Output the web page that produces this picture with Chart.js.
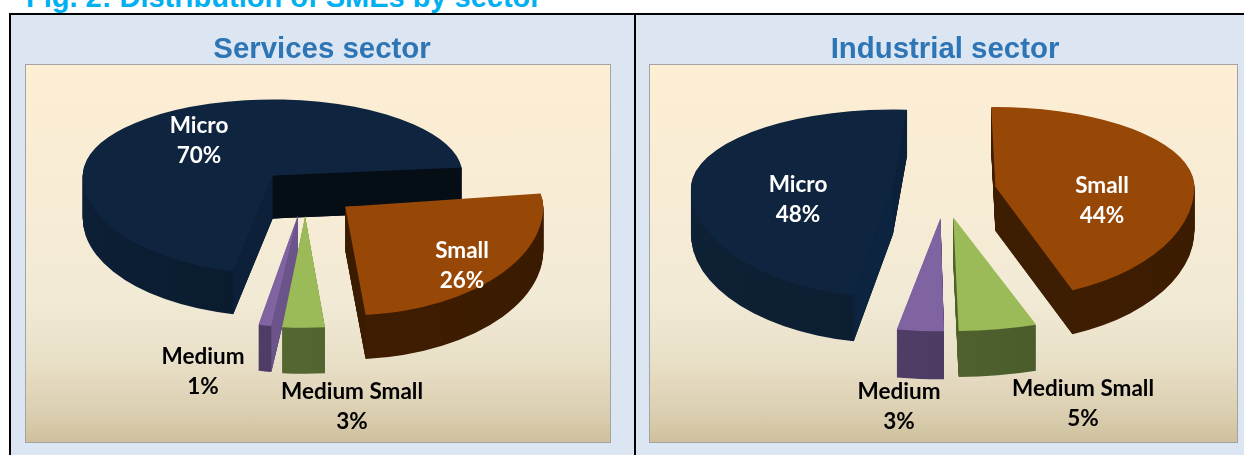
<!DOCTYPE html>
<html>
<head>
<meta charset="utf-8">
<script src="https://cdn.jsdelivr.net/npm/chart.js@4"></script>
<style>
html,body{margin:0;padding:0;background:#fff;width:1244px;height:455px;overflow:hidden;position:relative}
#hdr{position:absolute;left:26px;top:-18px;font:bold 29px "Liberation Sans",Arial,sans-serif;color:#00b0f0;white-space:nowrap;line-height:30px}
.panel{position:absolute;top:13px;height:450px;background:#dce6f2;border:2px solid #000;box-sizing:border-box}
.frame{position:absolute;top:64px;height:379px;border:1.5px solid #a3a3a3;box-sizing:border-box;
background:linear-gradient(to bottom,#fdeed4 0%,#f8ecd5 35%,#f1ead5 62%,#e9e0c8 78%,#dccfb1 92%,#cfc19e 100%)}
canvas{position:absolute;top:15px}
</style>
</head>
<body>
<div id="hdr">Fig. 2: Distribution of SMEs by sector</div>
<div class="panel" style="left:9px;width:627px"></div>
<div class="panel" style="left:634px;width:620px"></div>
<div class="frame" style="left:24.5px;width:586px"></div>
<div class="frame" style="left:648.5px;width:589px"></div>
<div style="position:absolute;left:11px;top:15px;width:622px;height:440px"><canvas id="c1" width="622" height="440" style="top:0;left:0"></canvas></div>
<div style="position:absolute;left:645px;top:15px;width:599px;height:440px;overflow:hidden"><canvas id="c2" width="600" height="440" style="top:0;left:0"></canvas></div>
<script>
const categories = ['Micro', 'Small', 'Medium Small', 'Medium'];
const servicesValues = [70, 26, 3, 1];
const industrialValues = [48, 44, 5, 3];
const servicesTitle = 'Services sector';
const industrialTitle = 'Industrial sector';

const topColors = ['#0f243e', '#974706', '#9bbb59', '#8064a2'];

const servicesStyle = {
  rotation: 191, center: [294.5, 175], kFar: [0.40, 0.40, 0.40, 0.40], kNear: [0.515, 0.55, 0.54, 0.54],
  explode: [49, 50, 48, 47], radius: [190, 198, 207, 207], depth: [43, 44, 46, 46],
  widen: [1, 1, 1.1, 1],
  turn: [1, -2.5, -1.6, 0], order: [0, 3, 2, 1],
  rim: [['#0c1f35', '#081725'], ['#451f02', '#3a1b01'], ['#5a6f35', '#4b5d2c'], ['#57436f', '#43345a']],
  wallStart: ['#0c2039', '#3e1d01', '#4f6228', '#6b5489'],
  wallEnd: ['#050d15', '#3c1c01', '#4f6228', '#4f3c65'],
  labelAt: [[188, 110.5], [451, 235.5], [341, 376.5], [192, 341.5]]
};
const industrialStyle = {
  rotation: 192, center: [299.5, 176], kFar: [0.39, 0.40, 0.39, 0.39], kNear: [0.54, 0.565, 0.54, 0.54],
  explode: [52, 52, 50, 50], radius: [202, 199, 210, 210], depth: [46, 44, 46, 48],
  widen: [1, 1, 1.2, 1.2],
  turn: [-0.8, -6, -2.4, -2], order: [0, 3, 2, 1],
  rim: [['#0e2135', '#0a1a2b'], ['#431f02', '#3c1c01'], ['#5d7236', '#3f5025'], ['#5a4670', '#3e3055']],
  wallStart: ['#0d2440', '#3e1d01', '#4f6228', '#4f3c65'],
  wallEnd: ['#0b2039', '#3e1e02', '#4f6228', '#4f3c65'],
  labelAt: [[153, 169.5], [457, 170.5], [438, 374], [254, 377]]
};
const labelColors = ['#ffffff', '#ffffff', '#000000', '#000000'];

const pie3d = {
  id: 'pie3d',
  beforeDatasetsDraw(chart, args, st) {
    const ctx = chart.ctx, arcs = chart.getDatasetMeta(0).data;
    const [cx, cy] = st.center;
    const geo = arcs.map((arc, i) => {
      const t = st.turn[i] * Math.PI / 180;
      const a0 = arc.startAngle + t, a1 = arc.endAngle + t, mid = (a0 + a1) / 2;
      const km = Math.sin(mid) < 0 ? st.kFar[i] : st.kNear[i];
      return { a0, a1, t, r: st.radius[i], w: st.widen[i], kF: st.kFar[i], kN: st.kNear[i],
        vx: cx + st.explode[i] * Math.cos(mid),
        vy: cy + st.explode[i] * km * Math.sin(mid), depth: st.depth[i] };
    });
    const face = (arc, g, dy, color) => {
      const saved = arc.options, s = g.r / arc.outerRadius;
      arc.options = Object.assign({}, saved, { backgroundColor: color, borderWidth: 0 });
      [[g.kF, -1], [g.kN, 1]].forEach(([k, side]) => {
        ctx.save();
        ctx.beginPath();
        if (side < 0) ctx.rect(-3000, -3000, 6000, 3000 + g.vy + dy + 0.5);
        else ctx.rect(-3000, g.vy + dy - 0.5, 6000, 3000);
        ctx.clip();
        ctx.translate(g.vx, g.vy + dy);
        ctx.scale(s * g.w, k * s);
        ctx.rotate(g.t);
        ctx.translate(-arc.x, -arc.y);
        arc.draw(ctx);
        ctx.restore();
      });
      arc.options = saved;
    };
    const edge = (g, a) => {
      const k = Math.sin(a) < 0 ? g.kF : g.kN;
      return [g.vx + g.r * g.w * Math.cos(a), g.vy + g.r * k * Math.sin(a)];
    };
    const wall = (g, a, color) => {
      const p = edge(g, a);
      ctx.fillStyle = color;
      ctx.beginPath();
      ctx.moveTo(g.vx, g.vy);
      ctx.lineTo(p[0], p[1]);
      ctx.lineTo(p[0], p[1] + g.depth);
      ctx.lineTo(g.vx, g.vy + g.depth);
      ctx.closePath();
      ctx.fill();
    };
    st.order.forEach(i => {
      const arc = arcs[i], g = geo[i];
      const grad = ctx.createLinearGradient(arc.x - arc.outerRadius, 0, arc.x + arc.outerRadius, 0);
      grad.addColorStop(0, st.rim[i][0]);
      grad.addColorStop(1, st.rim[i][1]);
      for (let d = g.depth; d >= 1; d--) face(arc, g, d, grad);
      if (-Math.cos(g.a0) > 0) wall(g, g.a0, st.wallStart[i]);
      if (Math.cos(g.a1) > 0) wall(g, g.a1, st.wallEnd[i]);
      face(arc, g, 0, topColors[i]);
    });
    return false;
  },
  afterDraw(chart, args, st) {
    const ctx = chart.ctx, values = chart.data.datasets[0].data;
    ctx.save();
    ctx.font = '700 22.5px Lato, "Open Sans", sans-serif';
    ctx.textAlign = 'center';
    ctx.textBaseline = 'middle';
    categories.forEach((name, i) => {
      const [x, y] = st.labelAt[i];
      ctx.fillStyle = labelColors[i];
      ctx.fillText(name, x, y);
      ctx.fillText(values[i] + '%', x, y + 30);
    });
    ctx.restore();
  }
};

function makeChart(id, title, values, style) {
  return new Chart(document.getElementById(id), {
    type: 'pie',
    data: { labels: categories, datasets: [{ data: values, backgroundColor: topColors, borderWidth: 0, clip: false }] },
    plugins: [pie3d],
    options: {
      responsive: false, animation: false, rotation: style.rotation,
      events: [],
      plugins: {
        legend: { display: false }, tooltip: { enabled: false },
        title: { display: true, text: title, color: '#2e75b6',
          font: { family: '"Liberation Sans", Arial, sans-serif', size: 29.4, weight: 'bold' },
          padding: { top: 17, bottom: 6 } },
        pie3d: style
      }
    }
  });
}
makeChart('c1', servicesTitle, servicesValues, servicesStyle);
makeChart('c2', industrialTitle, industrialValues, industrialStyle);
</script>
</body>
</html>
